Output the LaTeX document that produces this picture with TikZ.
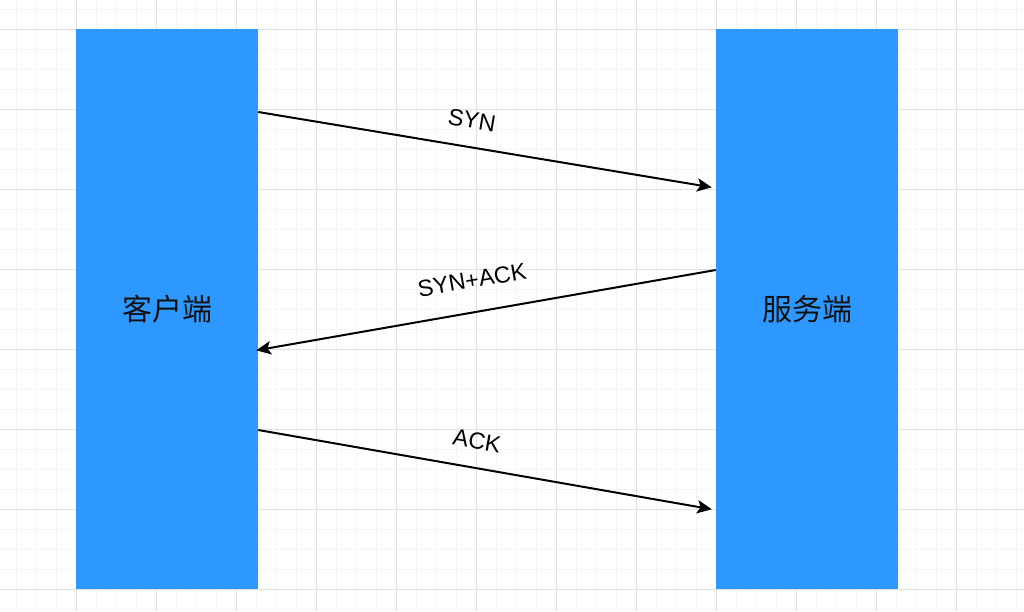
\documentclass[tikz,border=0pt]{standalone}
\usepackage{fontspec}
\setsansfont{Liberation Sans}
\newfontfamily\cjk{Noto Sans CJK SC}
\usetikzlibrary{arrows.meta}

\definecolor{gridmajor}{RGB}{225,225,225}
\definecolor{gridminor}{RGB}{245,245,245}
\definecolor{endblue}{RGB}{45,152,255}

\begin{document}
\begin{tikzpicture}[x=0.75pt,y=0.75pt,yscale=-1,xscale=1,
	endbox/.style={fill=endblue, draw=none, minimum width=136.5pt, minimum height=420pt, inner sep=0pt, font=\cjk\fontsize{22.5}{27}\selectfont, text={rgb,255:red,17;green,17;blue,17}},
	msg/.style={line width=1.5pt, -{Stealth[length=11pt, width=10pt, inset=2.5pt]}},
	msglabel/.style={inner sep=0pt, font=\sffamily\fontsize{17.5}{21}\selectfont}]
		
		\useasboundingbox (0,0) rectangle (1024,611);
		
		% Grid: feine Linien
		\foreach \gx in {16,36,...,1016} \draw [gridminor, line width=0.75pt] (\gx,0) -- (\gx,611);
		\foreach \gy in {9,29,...,609} \draw [gridminor, line width=0.75pt] (0,\gy) -- (1024,\gy);
		% Grid: grobe Linien
		\foreach \gx in {76,156,...,1000} \draw [gridmajor, line width=0.75pt] (\gx,0) -- (\gx,611);
		\foreach \gy in {29,109,...,609} \draw [gridmajor, line width=0.75pt] (0,\gy) -- (1024,\gy);
		
		% Shape: Client und Server
		\node [endbox] (client) at (167,309) {客户端};
		\node [endbox] (server) at (807,309) {服务端};
		
		% Arrows: Handshake
		\draw [msg, shorten >=3pt] ([yshift=-147.75pt]client.east) -- ([yshift=-90.75pt]server.west);
		\draw [msg, shorten >=-1.5pt] ([yshift=-29.25pt]server.west) -- ([yshift=30.75pt]client.east);
		\draw [msg, shorten >=3pt] ([yshift=90.75pt]client.east) -- ([yshift=150.75pt]server.west);
		
		% Text: Beschriftungen
		\node [msglabel, rotate=-9.4] (synlabel) at (472,120) {SYN};
		\node [msglabel, rotate=9.9] (synacklabel) at (472,280) {SYN+ACK};
		\node [msglabel, rotate=-9.9] (acklabel) at (477,441) {ACK};
		
	\end{tikzpicture}
\end{document}
